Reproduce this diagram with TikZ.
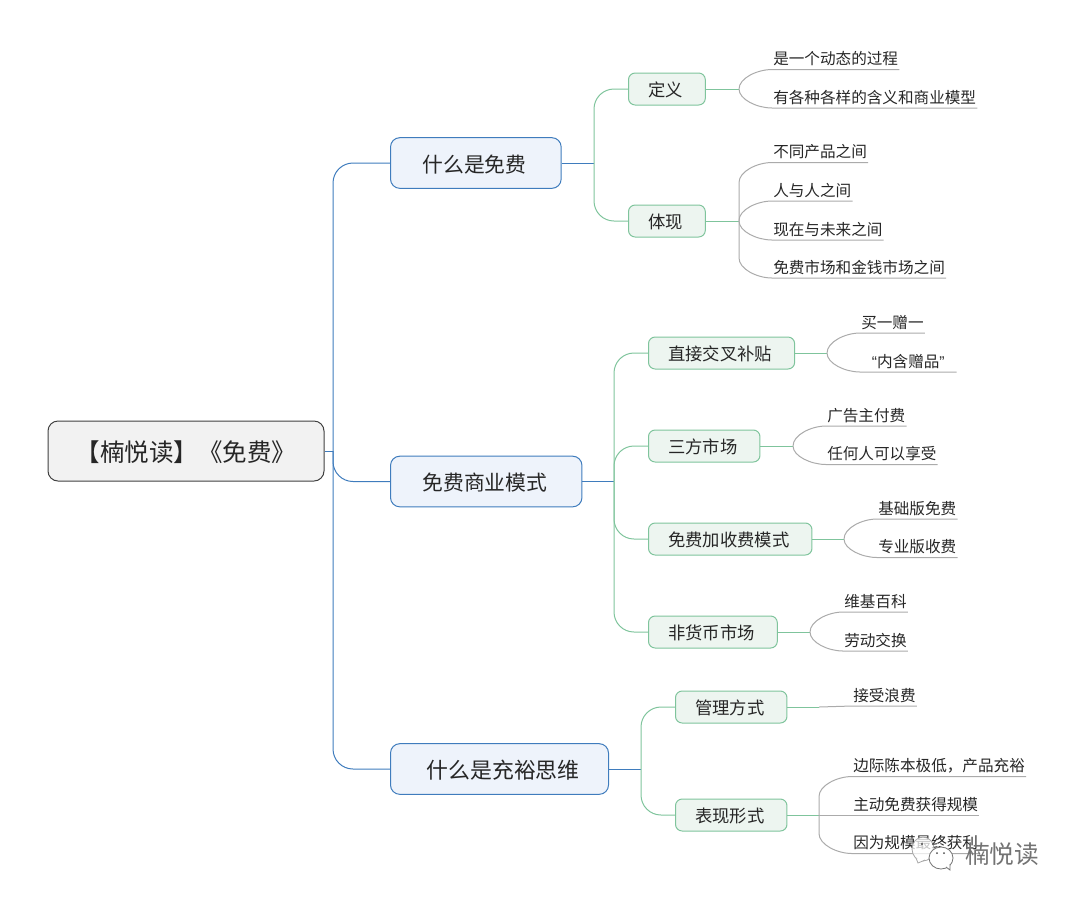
\documentclass[tikz,border=0pt]{standalone}
\usepackage{fontspec}
\setmainfont{Noto Sans CJK SC}
\newfontfamily\quotefont{Liberation Sans}
\usetikzlibrary{ positioning, calc }
\definecolor{bluelink}{HTML}{3F7CBD}
\definecolor{bluefill}{HTML}{EEF3FB}
\definecolor{greenlink}{HTML}{7FC49C}
\definecolor{greenfill}{HTML}{EDF5F0}
\definecolor{greylink}{HTML}{ABABAB}
\definecolor{inkdark}{HTML}{262626}
\tikzset{
  every node/.style={text=inkdark},
  rootbox/.style={draw=black!75, fill=black!5, rounded corners=7.5pt, line width=.75pt,
    minimum width=207pt, minimum height=45pt, inner sep=0pt, text height=15.5pt, text depth=0pt,
    font=\fontsize{18.4pt}{22pt}\selectfont},
  topicbox/.style={draw=bluelink, fill=bluefill, rounded corners=7pt, line width=.75pt, anchor=west,
    minimum height=38pt, inner xsep=26pt, inner ysep=0pt, text height=14pt, text depth=0pt,
    execute at begin node=\kern-2pt, font=\fontsize{15.6pt}{18pt}\selectfont},
  subbox/.style={draw=greenlink, fill=greenfill, rounded corners=5pt, line width=.75pt, anchor=west,
    minimum height=24pt, inner xsep=16.8pt, inner ysep=0pt, text height=11.5pt, text depth=0pt,
    execute at begin node=\kern-2pt, font=\fontsize{13pt}{15pt}\selectfont},
  leaf/.style={anchor=south west, inner xsep=.75pt, inner ysep=2.5pt,
    font=\fontsize{11.7pt}{14pt}\selectfont},
  bluewire/.style={draw=bluelink, line width=.75pt, rounded corners=15pt},
  greenwire/.style={draw=greenlink, line width=.75pt, rounded corners=15pt},
  greywire/.style={draw=greylink, line width=.75pt},
}
\begin{document}
\begin{tikzpicture}[x=.75pt,y=-.75pt]
  \useasboundingbox (0,0) rectangle (1073,901);
  % root and main topics
  \node[rootbox] (root) at (186,451) {【楠悦读】《免费》};
  \node[topicbox] (free) at (390,163) {什么是免费};
  \node[topicbox] (model) at (390,481.5) {免费商业模式};
  \node[topicbox, minimum width=163.5pt, inner xsep=20pt, text height=13.5pt,
    execute at begin node=\kern7.5pt, font=\fontsize{16.4pt}{18pt}\selectfont] (think) at (390,769) {什么是充裕思维};
  % green boxes
  \node[subbox] (define) at (628,89) {定义};
  \node[subbox] (show) at (628,221) {体现};
  \node[subbox] (cross) at (648,353) {直接交叉补贴};
  \node[subbox] (third) at (648,446) {三方市场};
  \node[subbox] (freemium) at (648,539) {免费加收费模式};
  \node[subbox] (nonmoney) at (648,632) {非货币市场};
  \node[subbox] (manage) at (675,707) {管理方式};
  \node[subbox] (form) at (675,815) {表现形式};
  % leaves
  \node[leaf] (l1) at (772,69.5) {是一个动态的过程};
  \node[leaf] (l2) at (772,108) {有各种各样的含义和商业模型};
  \node[leaf] (l3) at (772,162.5) {不同产品之间};
  \node[leaf] (l4) at (772,201) {人与人之间};
  \node[leaf] (l5) at (772,240) {现在与未来之间};
  \node[leaf] (l6) at (772,278) {免费市场和金钱市场之间};
  \node[leaf] (l7) at (860,333) {买一赠一};
  \node[leaf, minimum width=72pt] (l8) at (860,372) {{\quotefont “}内含赠品{\quotefont ”}};
  \node[leaf] (l9) at (826,426) {广告主付费};
  \node[leaf] (l10) at (826,464.5) {任何人可以享受};
  \node[leaf] (l11) at (877,519) {基础版免费};
  \node[leaf] (l12) at (877,557.5) {专业版收费};
  \node[leaf] (l13) at (843,612) {维基百科};
  \node[leaf] (l14) at (843,651) {劳动交换};
  \node[leaf] (l15) at (852,706) {接受浪费};
  \node[leaf] (l16) at (852,776.5) {边际陈本极低，产品充裕};
  \node[leaf] (l17) at (852,815) {主动免费获得规模};
  \node[leaf] (l18) at (852,853.5) {因为规模最终获利};
  % hubs
  \coordinate (hubroot) at (333,451);
  \coordinate (hubfree) at (594,163);
  \coordinate (hubmodel) at (614,481.5);
  \coordinate (hubthink) at (641,769);
  \coordinate (hubdefine) at (739,89);
  \coordinate (hubshow) at (739,221);
  \coordinate (hubcross) at (827,353);
  \coordinate (hubthird) at (793,446);
  \coordinate (hubfreemium) at (844,539);
  \coordinate (hubnonmoney) at (810,632);
  \coordinate (hubmanage) at (819,707);
  \coordinate (hubform) at (819,815);
  % blue wires
  \draw[bluewire] (root.east) -- (hubroot);
  \foreach \t in {free,model,think}
    \draw[bluewire] (hubroot) |- (\t.west);
  \draw[bluewire] (free.east) -- (hubfree);
  \draw[bluewire] (model.east) -- (hubmodel);
  \draw[bluewire] (think.east) -- (hubthink);
  % green wires
  \foreach \h/\t in {hubfree/define,hubfree/show,hubmodel/cross,hubmodel/third,
      hubmodel/freemium,hubmodel/nonmoney,hubthink/manage,hubthink/form}
    \draw[greenwire] (\h) |- (\t.west);
  \foreach \t in {define,show,cross,third,freemium,nonmoney,manage,form}
    \draw[greenwire] (\t.east) -- (hub\t);
  % grey wires, \s is the height of the bend
  \foreach \h/\t/\s in {hubdefine/l1/19.5,hubdefine/l2/-19,hubshow/l3/20,hubshow/l4/19.5,
      hubshow/l5/-19,hubshow/l6/-20,hubcross/l7/20,hubcross/l8/-19,hubthird/l9/20,hubthird/l10/-18.5,
      hubfreemium/l11/20,hubfreemium/l12/-18.5,hubnonmoney/l13/20,hubnonmoney/l14/-19,
      hubform/l16/20,hubform/l18/-20}
    \draw[greywire] (\h) -- ($(\h |- \t.south west)+(0,\s)$)
      .. controls ($(\h |- \t.south west)+(0,.45*\s)$) and ($(\t.south west)+(-15,0)$) .. (\t.south west)
      -- (\t.south east);
  \draw[greywire] (hubmanage) -- (l15.south west) -- (l15.south east);
  \draw[greywire] (hubform) -- (l17.south west) -- (l17.south east);
  % watermark
  \draw[black!35, line width=.6pt, fill=white, fill opacity=.75] (923,849) ellipse (11 and 12);
  \draw[black!35, line width=.6pt, fill=white] (916,858) -- (918,863) -- (925,860);
  \draw[black!55, line width=.6pt, fill=white] (941,858) ellipse (12 and 11);
  \draw[black!55, line width=.6pt, fill=white] (946,867) -- (950,870) -- (950,864);
  \fill[black!70] (922,844) circle (1.2) (933,844) circle (1.2) (937,853) circle (1) (944,853) circle (1);
  \node[font=\fontsize{18.5pt}{22pt}\selectfont, text=black!55, inner sep=0pt] (mark) at (1002,854) {楠悦读};
\end{tikzpicture}
\end{document}
